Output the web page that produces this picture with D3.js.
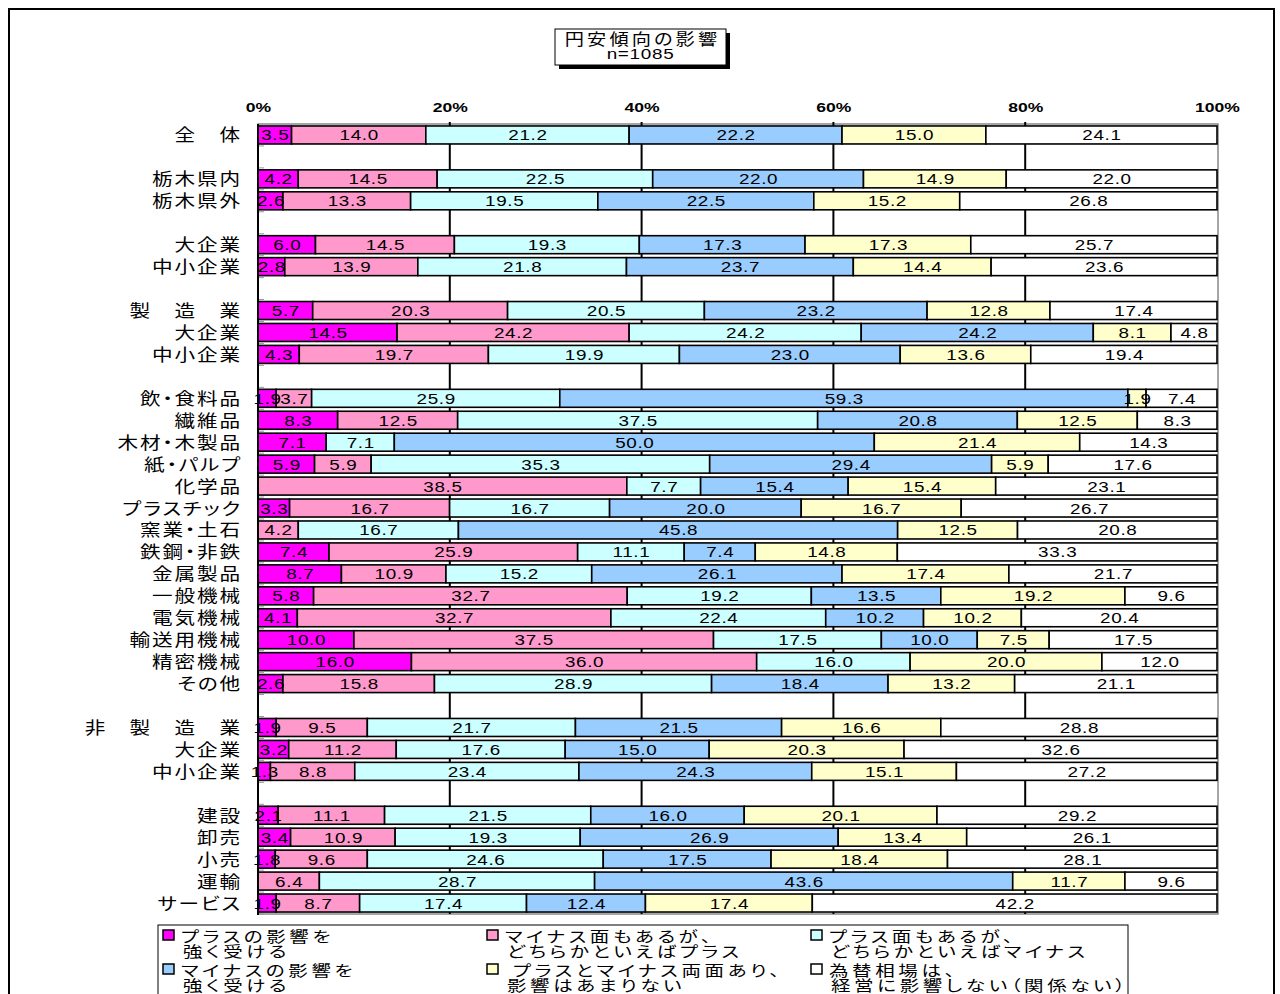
<!DOCTYPE html>
<html lang="ja">
<head>
<meta charset="utf-8">
<script src="https://cdn.jsdelivr.net/npm/d3@7"></script>
<style>
  html, body { margin: 0; padding: 0; background: #fff; }
  svg { display: block; }
  .jp { font-family: "Noto Sans CJK JP", "Noto Sans", sans-serif; font-size: 16.5px; letter-spacing: 1.5px; font-feature-settings: "palt" 1; fill: #000; }
  .num { font-family: "Liberation Sans", Arial, sans-serif; font-size: 14.5px; letter-spacing: 0.5px; fill: #000; }
  .tick text { font-family: "Liberation Sans", Arial, sans-serif; font-size: 13.5px; font-weight: bold; fill: #000; }
</style>
</head>
<body>
<svg id="chart" width="1280" height="994"></svg>
<script>
// Row labels, top to bottom; null marks an empty spacer row between groups
const categories = [
  "全　体", null, "栃木県内", "栃木県外", null, "大企業", "中小企業", null,
  "製　造　業", "大企業", "中小企業", null,
  "飲・食料品", "繊維品", "木材・木製品", "紙・パルプ", "化学品", "プラスチック",
  "窯業・土石", "鉄鋼・非鉄", "金属製品", "一般機械", "電気機械", "輸送用機械",
  "精密機械", "その他", null,
  "非　製　造　業", "大企業", "中小企業", null,
  "建設", "卸売", "小売", "運輸", "サービス"
];

// Shares (%) for each response, one array per series
const plusStrong = [3.5, null, 4.2, 2.6, null, 6.0, 2.8, null, 5.7, 14.5, 4.3, null,
  1.9, 8.3, 7.1, 5.9, 0, 3.3, 0, 7.4, 8.7, 5.8, 4.1, 10.0, 16.0, 2.6, null,
  1.9, 3.2, 1.3, null, 2.1, 3.4, 1.8, 0, 1.9];
const minusSomePlus = [14.0, null, 14.5, 13.3, null, 14.5, 13.9, null, 20.3, 24.2, 19.7, null,
  3.7, 12.5, 0, 5.9, 38.5, 16.7, 4.2, 25.9, 10.9, 32.7, 32.7, 37.5, 36.0, 15.8, null,
  9.5, 11.2, 8.8, null, 11.1, 10.9, 9.6, 6.4, 8.7];
const plusSomeMinus = [21.2, null, 22.5, 19.5, null, 19.3, 21.8, null, 20.5, 24.2, 19.9, null,
  25.9, 37.5, 7.1, 35.3, 7.7, 16.7, 16.7, 11.1, 15.2, 19.2, 22.4, 17.5, 16.0, 28.9, null,
  21.7, 17.6, 23.4, null, 21.5, 19.3, 24.6, 28.7, 17.4];
const minusStrong = [22.2, null, 22.0, 22.5, null, 17.3, 23.7, null, 23.2, 24.2, 23.0, null,
  59.3, 20.8, 50.0, 29.4, 15.4, 20.0, 45.8, 7.4, 26.1, 13.5, 10.2, 10.0, 0, 18.4, null,
  21.5, 15.0, 24.3, null, 16.0, 26.9, 17.5, 43.6, 12.4];
const bothSides = [15.0, null, 14.9, 15.2, null, 17.3, 14.4, null, 12.8, 8.1, 13.6, null,
  1.9, 12.5, 21.4, 5.9, 15.4, 16.7, 12.5, 14.8, 17.4, 19.2, 10.2, 7.5, 20.0, 13.2, null,
  16.6, 20.3, 15.1, null, 20.1, 13.4, 18.4, 11.7, 17.4];
const noEffect = [24.1, null, 22.0, 26.8, null, 25.7, 23.6, null, 17.4, 4.8, 19.4, null,
  7.4, 8.3, 14.3, 17.6, 23.1, 26.7, 20.8, 33.3, 21.7, 9.6, 20.4, 17.5, 12.0, 21.1, null,
  28.8, 32.6, 27.2, null, 29.2, 26.1, 28.1, 9.6, 42.2];

// Legend entries (two lines each), in series order
const legendLabels = [
  ["プラスの影響を", "強く受ける"],
  ["マイナス面もあるが、", "どちらかといえばプラス"],
  ["プラス面もあるが、", "どちらかといえばマイナス"],
  ["マイナスの影響を", "強く受ける"],
  [" プラスとマイナス両面あり、", "影響はあまりない"],
  ["為替相場は、", "経営に影響しない（関係ない）"]
];
const xTicks = [0, 0.2, 0.4, 0.6, 0.8, 1];
const titleLines = ["円安傾向の影響", "n=1085"];

const keys = ["plusStrong", "minusSomePlus", "plusSomeMinus", "minusStrong", "bothSides", "noEffect"];
const seriesArrays = [plusStrong, minusSomePlus, plusSomeMinus, minusStrong, bothSides, noEffect];
const colors = ["#ff00ff", "#ff99cc", "#ccffff", "#99ccff", "#ffffcc", "#ffffff"];

const rows = categories.map((c, i) => {
  const r = { idx: String(i), name: c };
  keys.forEach((k, j) => { r[k] = seriesArrays[j][i]; });
  return r;
});
const dataRows = rows.filter(r => r.name !== null);

const svg = d3.select("#chart");

// Outer frame
svg.append("rect").attr("x", 9).attr("y", 9).attr("width", 1265).attr("height", 1000)
  .attr("fill", "none").attr("stroke", "#000").attr("stroke-width", 2);

// Title box with drop shadow
const tb = { x: 555, y: 29, w: 171, h: 36 };
svg.append("rect").attr("x", tb.x + 4).attr("y", tb.y + 4).attr("width", tb.w).attr("height", tb.h).attr("fill", "#000");
svg.append("rect").attr("x", tb.x).attr("y", tb.y).attr("width", tb.w).attr("height", tb.h)
  .attr("fill", "#fff").attr("stroke", "#000").attr("stroke-width", 1);
svg.append("text").attr("class", "jp")
  .attr("transform", `translate(${tb.x + tb.w / 2 + 2},${tb.y + 16}) scale(1.2,1)`)
  .attr("text-anchor", "middle").style("font-size", "16px").style("letter-spacing", "2.6px")
  .text(titleLines[0]);
svg.append("text").attr("class", "num")
  .attr("transform", `translate(${tb.x + tb.w / 2},${tb.y + 30}) scale(1.35,1)`)
  .attr("text-anchor", "middle").style("font-size", "14px")
  .text(titleLines[1]);

// Scales
const plot = { left: 258, right: 1217, top: 124, bottom: 914 };
const x = d3.scaleLinear().domain([0, 1]).range([plot.left, plot.right]);
const y = d3.scaleBand().domain(rows.map(r => r.idx)).range([plot.top, plot.bottom])
  .paddingInner(0.18).paddingOuter(0.09);

// Plot frame and vertical gridlines
svg.append("rect").attr("x", plot.left).attr("y", plot.top)
  .attr("width", plot.right - plot.left + 1).attr("height", plot.bottom - plot.top)
  .attr("fill", "none").attr("stroke", "#888").attr("stroke-width", 1.5);
svg.append("g").selectAll("line").data(xTicks.slice(1, -1)).join("line")
  .attr("x1", d => x(d)).attr("x2", d => x(d))
  .attr("y1", plot.top - 2).attr("y2", plot.bottom)
  .attr("stroke", "#000").attr("stroke-width", 2);

// Small inward ticks on the category axis at band boundaries
const gap = y.step() * y.paddingInner();
svg.append("g").selectAll("line").data(rows).join("line")
  .attr("x1", plot.left).attr("x2", plot.left + 6)
  .attr("y1", d => y(d.idx) + y.bandwidth() + gap / 2)
  .attr("y2", d => y(d.idx) + y.bandwidth() + gap / 2)
  .attr("stroke", "#999").attr("stroke-width", 1);

// Top percentage axis
const xAxis = svg.append("g").attr("transform", `translate(0,${plot.top - 12})`)
  .call(d3.axisTop(x).tickValues(xTicks).tickFormat(d3.format(".0%")).tickSize(0).tickPadding(0));
xAxis.select(".domain").remove();
xAxis.selectAll(".tick text").attr("transform", "scale(1.3,1)");

// Stacked bars (each row expanded to 100%)
const stacked = d3.stack().keys(keys).offset(d3.stackOffsetExpand)(dataRows.map(r => {
  const o = { idx: r.idx };
  keys.forEach(k => { o[k] = r[k] || 0; });
  return o;
}));

const layers = svg.append("g").selectAll("g").data(stacked).join("g")
  .attr("fill", (d, i) => colors[i]);
layers.selectAll("rect").data(d => d.filter(s => s[1] - s[0] > 0)).join("rect")
  .attr("x", s => x(s[0])).attr("width", s => x(s[1]) - x(s[0]))
  .attr("y", s => y(s.data.idx)).attr("height", y.bandwidth())
  .attr("stroke", "#000").attr("stroke-width", 1.6);

// Value labels centred in each segment
const labelG = svg.append("g");
stacked.forEach((layer, i) => {
  labelG.selectAll(null).data(layer.filter(s => s[1] - s[0] > 0)).join("text")
    .attr("class", "num")
    .attr("text-anchor", "middle")
    .attr("transform", s => `translate(${(x(s[0]) + x(s[1])) / 2 + 0.5},${y(s.data.idx) + y.bandwidth() / 2 + 5.5}) scale(1.3,1)`)
    .text(s => s.data[keys[i]].toFixed(1));
});

// Left axis line
svg.append("line").attr("x1", plot.left).attr("x2", plot.left)
  .attr("y1", plot.top).attr("y2", plot.bottom + 1)
  .attr("stroke", "#000").attr("stroke-width", 2);

// Category labels
svg.append("g").selectAll("text").data(dataRows).join("text")
  .attr("class", "jp").attr("text-anchor", "end")
  .attr("transform", d => `translate(242,${y(d.idx) + y.bandwidth() / 2 + 6.5}) scale(1.25,1)`)
  .text(d => d.name);

// Legend
const lg = { x: 158, y: 925, w: 970 };
svg.append("rect").attr("x", lg.x).attr("y", lg.y).attr("width", lg.w).attr("height", 100)
  .attr("fill", "#fff").attr("stroke", "#000").attr("stroke-width", 1);
const colX = [163, 487, 811];
const rowY = [930, 964];
legendLabels.forEach((lines, i) => {
  const cx = colX[i % 3], cy = rowY[Math.floor(i / 3)];
  svg.append("rect").attr("x", cx).attr("y", cy).attr("width", 11).attr("height", 10)
    .attr("fill", colors[i]).attr("stroke", "#000").attr("stroke-width", 1.5);
  lines.forEach((t, k) => {
    svg.append("text").attr("class", "jp")
      .attr("transform", `translate(${cx + 18 + (k === 1 ? 2 : 0)},${cy + 12 + k * 15}) scale(1.3,1)`)
      .style("font-size", "15px").style("letter-spacing", "2.8px")
      .attr("xml:space", "preserve")
      .style("white-space", "pre")
      .text(t);
  });
});
</script>
</body>
</html>
